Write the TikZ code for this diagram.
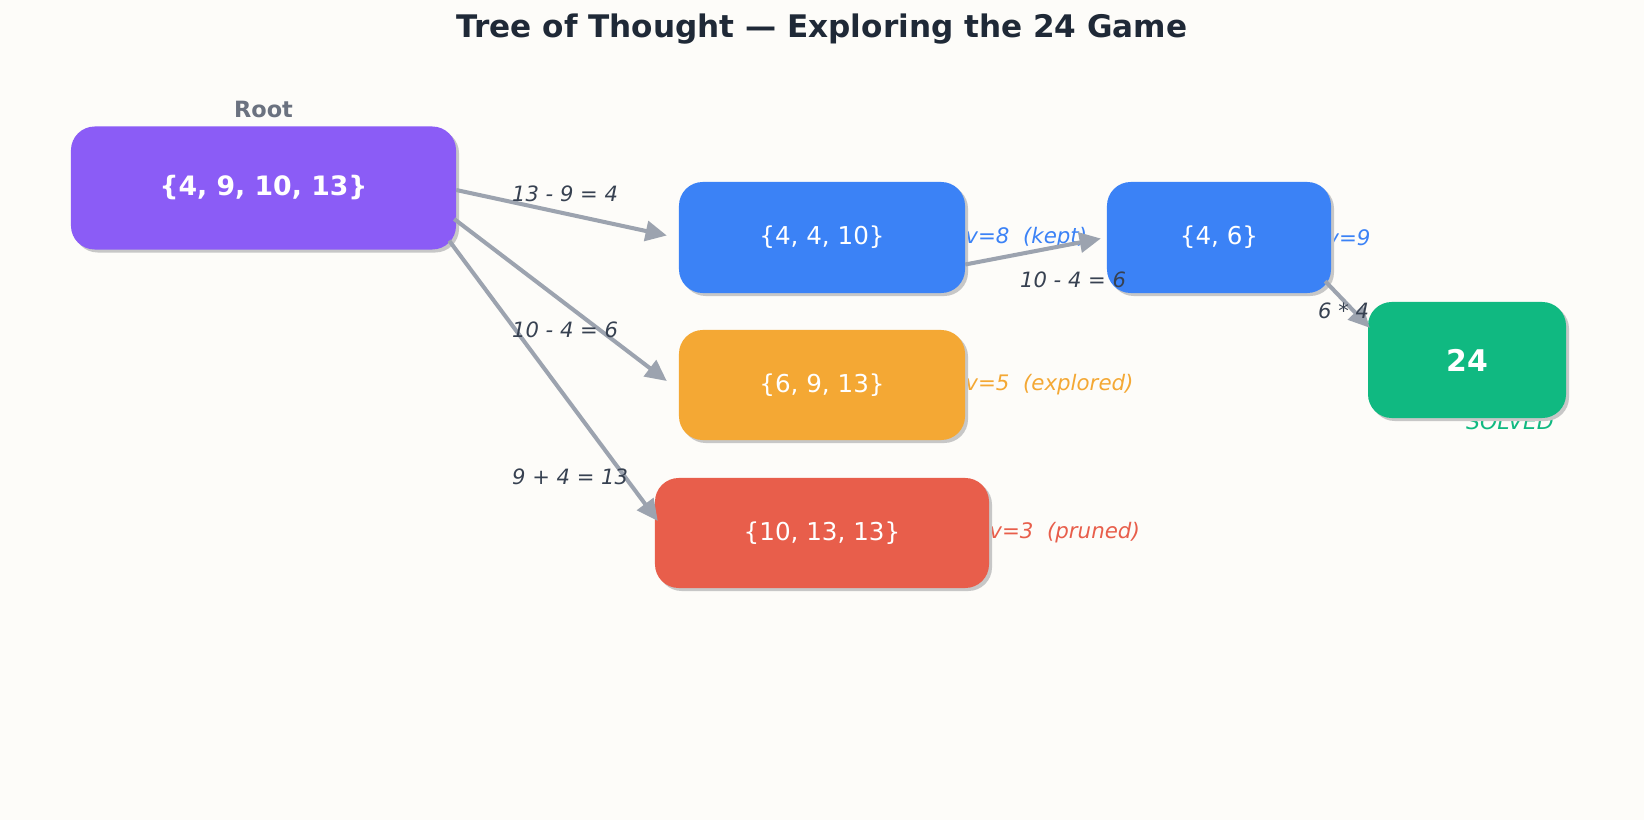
\documentclass[tikz,border=0pt]{standalone}
\usepackage{fontspec}
\setmainfont{DejaVu Sans}
\usetikzlibrary{arrows.meta, positioning, calc, shadows}
\definecolor{bgpaper}{HTML}{FDFCF9}
\definecolor{rootpurple}{HTML}{8B5CF6}
\definecolor{keptblue}{HTML}{3B82F6}
\definecolor{explorange}{HTML}{F4A834}
\definecolor{prunedred}{HTML}{E85E4B}
\definecolor{solvedgreen}{HTML}{10B981}
\definecolor{edgegray}{HTML}{9CA3AF}
\definecolor{opslate}{HTML}{374151}
\definecolor{titleslate}{HTML}{1F2937}
\definecolor{rootgray}{HTML}{6B7280}
\pgfdeclarelayer{behind}
\pgfsetlayers{behind,main}

\begin{document}
\begin{tikzpicture}[x=0.04cm, y=-0.04cm,
  state/.style={rounded corners=0.95cm, inner sep=0pt, text=white,
    font=\fontsize{28}{32}\selectfont,
    drop shadow={shadow xshift=0.12cm, shadow yshift=-0.12cm, fill=black!22, opacity=1}},
  arrow/.style={draw=edgegray, line width=4.6pt, -{Triangle[length=0.85cm, width=0.8cm]}},
  oplabel/.style={anchor=west, inner sep=0pt, text=opslate, font=\fontsize{24}{28}\selectfont\itshape},
  score/.style={anchor=west, inner sep=0pt, font=\fontsize{24.3}{28}\selectfont\itshape}]
  \useasboundingbox (0,0) rectangle (1644,820);
  \begin{pgfonlayer}{behind}
    \fill[bgpaper] (0,0) rectangle (1644,820);
  \end{pgfonlayer}

  \node[text=titleslate, font=\fontsize{35.4}{40}\selectfont\bfseries] (title) at (822,29) {Tree of Thought — Exploring the 24 Game};

  % states
  \node[state, fill=rootpurple, minimum width=15.4cm, minimum height=4.92cm, font=\fontsize{30.4}{34}\selectfont\bfseries] (root) at (263.5,188) {\{4, 9, 10, 13\}};
  \node[text=rootgray, font=\fontsize{25.5}{30}\selectfont\bfseries] (rootlbl) at ($(root.north)+(0,-17)$) {Root};
  \node[state, fill=keptblue, minimum width=11.44cm, minimum height=4.44cm] (kept) at (822,237.5) {\{4, 4, 10\}};
  \node[state, fill=explorange, minimum width=11.44cm, minimum height=4.4cm] (expl) at (822,385) {\{6, 9, 13\}};
  \node[state, fill=prunedred, minimum width=13.36cm, minimum height=4.4cm] (pruned) at (822,533) {\{10, 13, 13\}};
  \node[state, fill=keptblue, minimum width=8.96cm, minimum height=4.44cm] (pair) at (1219,237.5) {\{4, 6\}};
  \node[state, fill=solvedgreen, minimum width=7.92cm, minimum height=4.64cm, font=\fontsize{34}{40}\selectfont\bfseries] (goal) at (1467,360) {24};

  % moves
  \draw[arrow] ($(root.east)+(0,2)$) -- ($(kept.west)+(-12,-2)$);
  \draw[arrow] ($(root.east)+(-2,31)$) -- ($(expl.west)+(-12,-4)$);
  \draw[arrow] ($(root.south east)+(-7,-9)$) -- ($(pruned.west)+(3,-12)$);
  \draw[arrow] ($(kept.east)+(0,27)$) -- ($(pair.west)+(-6,1)$);
  \draw[arrow] ($(pair.south east)+(-6,-12)$) -- ($(goal.north west)+(2,26)$);

  \node[oplabel] (op1) at (512,194) {13 - 9 = 4};
  \node[oplabel] (op2) at (512,330) {10 - 4 = 6};
  \node[oplabel] (op3) at (512,477) {9 + 4 = 13};
  \node[oplabel] (op4) at (1020,280) {10 - 4 = 6};
  \node[oplabel] (op5) at (1318,311) {6 * 4};

  \begin{pgfonlayer}{behind}
    \node[score, text=keptblue] (v1) at (kept.east) {v=8\ \ (kept)};
    \node[score, text=explorange] (v2) at (expl.east) {v=5\ \ (explored)};
    \node[score, text=prunedred] (v3) at (pruned.east) {v=3\ \ (pruned)};
    \node[score, text=keptblue] (v4) at ($(pair.east)+(-5,0)$) {v=9};
    \node[score, anchor=base, text=solvedgreen, font=\fontsize{25}{28}\selectfont\itshape] (solved) at ($(goal.south)+(43,11)$) {SOLVED};
  \end{pgfonlayer}
\end{tikzpicture}
\end{document}
